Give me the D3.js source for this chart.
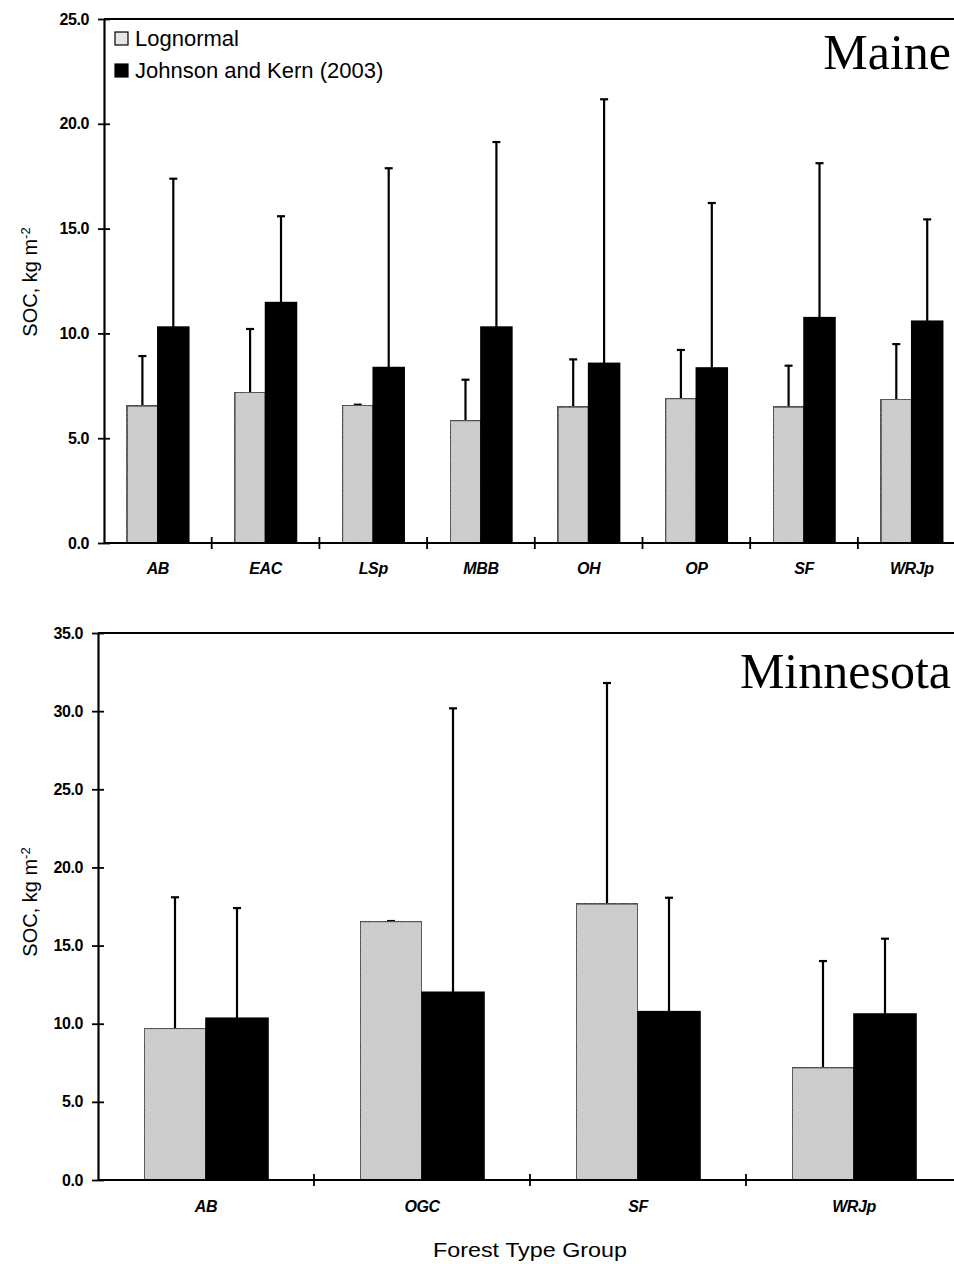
<!DOCTYPE html>
<html>
<head>
<meta charset="utf-8">
<script src="https://cdn.jsdelivr.net/npm/d3@7"></script>
<style>
html,body{margin:0;padding:0;background:#fff;}
svg{display:block;}
</style>
</head>
<body>
<svg id="chart" width="954" height="1264"></svg>
<script>
// ---------- DATA ----------
const series = ["Lognormal", "Johnson and Kern (2003)"];

// Maine
const maineCategories = ["AB", "EAC", "LSp", "MBB", "OH", "OP", "SF", "WRJp"];
const maineLognormal = [6.55, 7.2, 6.58, 5.85, 6.5, 6.9, 6.5, 6.87];
const maineLognormalUpper = [8.92, 10.21, 6.6, 7.79, 8.76, 9.21, 8.46, 9.49];
const maineJK = [10.3, 11.47, 8.37, 10.3, 8.57, 8.35, 10.75, 10.58];
const maineJKUpper = [17.38, 15.59, 17.88, 19.13, 21.17, 16.22, 18.12, 15.44];
const maineTicks = [0, 5, 10, 15, 20, 25];

// Minnesota
const mnCategories = ["AB", "OGC", "SF", "WRJp"];
const mnLognormal = [9.71, 16.55, 17.68, 7.2];
const mnLognormalUpper = [18.09, 16.57, 31.8, 14.01];
const mnJK = [10.35, 12.01, 10.77, 10.62];
const mnJKUpper = [17.4, 30.18, 18.06, 15.44];
const mnTicks = [0, 5, 10, 15, 20, 25, 30, 35];

const colors = {"Lognormal": "#d0d0d0", "Johnson and Kern (2003)": "#000000"};

// ---------- DRAW ----------
const svg = d3.select("#chart");

const defs = svg.append("defs");
const filt = defs.append("filter").attr("id", "grain").attr("x", 0).attr("y", 0).attr("width", 1).attr("height", 1);
filt.append("feTurbulence").attr("type", "fractalNoise").attr("baseFrequency", 0.9).attr("numOctaves", 1).attr("seed", 3).attr("result", "noise");
filt.append("feColorMatrix").attr("in", "noise").attr("type", "matrix")
  .attr("values", "0 0 0 0 0.5  0 0 0 0 0.5  0 0 0 0 0.5  0 0 0 0.35 0").attr("result", "n2");
filt.append("feComposite").attr("in", "n2").attr("in2", "SourceGraphic").attr("operator", "in").attr("result", "n3");
filt.append("feMerge").selectAll("feMergeNode").data(["SourceGraphic", "n3"]).join("feMergeNode").attr("in", d => d);

function panel(opts) {
  const {cats, lo, loU, jk, jkU, ticks, yMax, x0, x1, yTop, yBot, title, titleY, ylabelY, labelY} = opts;
  const g = svg.append("g");
  const x = d3.scaleBand().domain(cats).range([x0, x1]).paddingInner(0).paddingOuter(0);
  const xs = d3.scaleBand().domain(series).range([0, x.bandwidth()]).paddingInner(0).paddingOuter(0.742);
  const y = d3.scaleLinear().domain([0, yMax]).range([yBot, yTop]);

  const rows = cats.map((c, i) => ({
    cat: c,
    bars: [
      {s: series[0], v: lo[i], u: loU[i]},
      {s: series[1], v: jk[i], u: jkU[i]}
    ]
  }));

  // frame top line
  g.append("line").attr("x1", x0).attr("x2", 960).attr("y1", yTop).attr("y2", yTop)
    .attr("stroke", "#000").attr("stroke-width", 2);

  // error bars (drawn behind bars)
  const eb = g.append("g");
  rows.forEach(r => r.bars.forEach(b => {
    const cx = x(r.cat) + xs(b.s) + xs.bandwidth() / 2;
    if (b.u - b.v > 0.1) {
      eb.append("line").attr("x1", cx).attr("x2", cx).attr("y1", y(b.v)).attr("y2", y(b.u))
        .attr("stroke", "#000").attr("stroke-width", 2.2);
    }
    eb.append("line").attr("x1", cx - 4).attr("x2", cx + 4).attr("y1", y(b.u)).attr("y2", y(b.u))
      .attr("stroke", "#000").attr("stroke-width", 2.2);
  }));

  // bars
  const grp = g.selectAll("g.grp").data(rows).join("g").attr("class", "grp")
    .attr("transform", d => `translate(${x(d.cat)},0)`);
  grp.selectAll("rect").data(d => d.bars).join("rect")
    .attr("x", d => xs(d.s))
    .attr("y", d => y(d.v))
    .attr("width", xs.bandwidth())
    .attr("height", d => y(0) - y(d.v))
    .attr("fill", d => colors[d.s])
    .attr("filter", d => d.s === series[0] ? "url(#grain)" : null)
    .attr("stroke", "#000").attr("stroke-width", 1.6);

  // y axis
  const ya = g.append("g").attr("transform", `translate(${x0},0)`)
    .call(d3.axisLeft(y).tickValues(ticks).tickFormat(d3.format(".1f")).tickSize(6).tickSizeOuter(0));
  ya.select(".domain").attr("stroke-width", 2.2);
  ya.selectAll(".tick line").attr("x1", -6).attr("x2", 6).attr("stroke-width", 1.8);
  ya.selectAll(".tick text").attr("x", -15)
    .attr("font-family", "'Liberation Sans', Arial, sans-serif").attr("font-weight", "bold")
    .attr("font-size", 16).attr("fill", "#000").attr("letter-spacing", -0.4);

  // x axis
  const xa = g.append("g").attr("transform", `translate(0,${yBot})`)
    .call(d3.axisBottom(x).tickSize(0).tickSizeOuter(0));
  xa.select(".domain").attr("d", `M${x0},0H960`).attr("stroke-width", 2.2);
  xa.selectAll(".tick text").attr("dy", 0).attr("y", labelY - yBot)
    .attr("font-family", "'Liberation Sans', Arial, sans-serif").attr("font-weight", "bold")
    .attr("font-style", "italic").attr("font-size", 16).attr("fill", "#000").attr("letter-spacing", -0.4);
  // boundary ticks between categories
  const bounds = cats.slice(1).map(c => x(c));
  xa.selectAll("line.bt").data(bounds).join("line").attr("class", "bt")
    .attr("x1", d => d).attr("x2", d => d).attr("y1", -6).attr("y2", 6)
    .attr("stroke", "#000").attr("stroke-width", 1.8);

  // y label
  const yl = g.append("text")
    .attr("transform", `translate(37,${ylabelY}) rotate(-90)`)
    .attr("text-anchor", "middle")
    .attr("font-family", "'Liberation Sans', Arial, sans-serif").attr("font-size", 20).attr("fill", "#000");
  yl.append("tspan").text("SOC, kg m");
  yl.append("tspan").attr("baseline-shift", "super").attr("font-size", 13).text("-2");

  // title
  g.append("text").attr("x", 951).attr("y", titleY).attr("text-anchor", "end")
    .attr("font-family", "'Liberation Serif', 'Times New Roman', serif").attr("font-size", 50)
    .attr("fill", "#000").text(title);
}

panel({
  cats: maineCategories, lo: maineLognormal, loU: maineLognormalUpper, jk: maineJK, jkU: maineJKUpper,
  ticks: maineTicks, yMax: 25, x0: 104, x1: 104 + 8 * 107.7, yTop: 19, yBot: 543,
  title: "Maine", titleY: 69, ylabelY: 282, labelY: 574
});

panel({
  cats: mnCategories, lo: mnLognormal, loU: mnLognormalUpper, jk: mnJK, jkU: mnJKUpper,
  ticks: mnTicks, yMax: 35, x0: 98, x1: 98 + 4 * 216, yTop: 633, yBot: 1180,
  title: "Minnesota", titleY: 688, ylabelY: 902, labelY: 1212
});

// legend
const leg = svg.append("g").attr("transform", "translate(115,32)");
series.forEach((s, i) => {
  const row = leg.append("g").attr("transform", `translate(0,${i * 32})`);
  row.append("rect").attr("x", 0).attr("y", 0).attr("width", 13).attr("height", 13)
    .attr("fill", s === series[0] ? "#e6e6e6" : "#000").attr("stroke", "#000").attr("stroke-width", 1.2);
  row.append("text").attr("x", 20).attr("y", 14).attr("font-family", "'Liberation Sans', Arial, sans-serif")
    .attr("font-size", 22).attr("fill", "#000").text(s);
});

// x axis title
svg.append("text").attr("x", 530).attr("y", 1257).attr("text-anchor", "middle")
  .attr("font-family", "'Liberation Sans', Arial, sans-serif")
  .attr("font-size", 21).attr("textLength", 194).attr("lengthAdjust", "spacingAndGlyphs")
  .attr("fill", "#000").text("Forest Type Group");
</script>
</body>
</html>
